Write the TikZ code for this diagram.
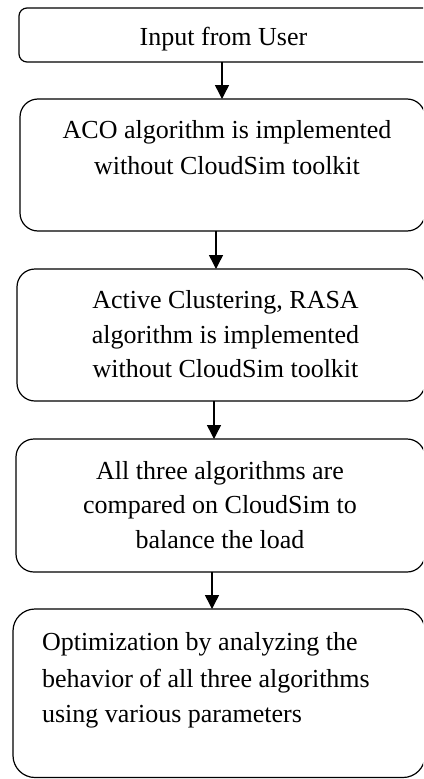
\documentclass[tikz,border=0pt]{standalone}
\usepackage{fontspec}
\setmainfont{Liberation Serif}
\usetikzlibrary{arrows.meta}
\begin{document}
\begin{tikzpicture}[x=1pt,y=-1pt,
  box/.style={draw=black, line width=1.2pt, inner sep=0pt, outer sep=0pt},
  txt/.style={inner sep=0pt, outer sep=0pt, font=\fontsize{26}{31}\selectfont, anchor=base},
  txtl/.style={txt, anchor=base west},
  arr/.style={line width=1.5pt, -{Triangle[width=14pt,length=14pt]}}]
\useasboundingbox (0,0) rectangle (423,779);
\clip (0,0) rectangle (423,779);
% boxes
\node[box, rounded corners=8pt, minimum width=413pt, minimum height=54pt] (b1) at (225.5,35) {};
\node[box, rounded corners=18pt, minimum width=405pt, minimum height=132pt] (b2) at (222.5,165) {};
\node[box, rounded corners=18pt, minimum width=408pt, minimum height=132pt] (b3) at (221,335) {};
\node[box, rounded corners=18pt, minimum width=409pt, minimum height=133pt] (b4) at (220.5,505.5) {};
\node[box, rounded corners=22pt, minimum width=412pt, minimum height=168.5pt] (b5) at (219,693.25) {};
% texts
\node[txt] (t1) at (223.5,45) {Input from User};
\node[txt] (t2a) at (227,138) {ACO algorithm is implemented};
\node[txt] (t2b) at (227,174) {without CloudSim toolkit};
\node[txt] (t3a) at (225.5,308) {Active Clustering, RASA};
\node[txt] (t3b) at (225.5,343) {algorithm is implemented};
\node[txt] (t3c) at (225.5,377) {without CloudSim toolkit};
\node[txt] (t4a) at (220,479) {All three algorithms are};
\node[txt] (t4b) at (220,513) {compared on CloudSim to};
\node[txt] (t4c) at (220,548) {balance the load};
\node[txtl] (t5a) at (42,650) {Optimization by analyzing the};
\node[txtl] (t5b) at (42,687) {behavior of all three algorithms};
\node[txtl] (t5c) at (42,722) {using various parameters};
% arrow columns
\coordinate (x1) at (222,0);
\coordinate (x2) at (216,0);
\coordinate (x3) at (214,0);
\coordinate (x4) at (212,0);
\draw[arr] (b1.south -| x1) -- (b2.north -| x1);
\draw[arr] (b2.south -| x2) -- (b3.north -| x2);
\draw[arr] (b3.south -| x3) -- (b4.north -| x3);
\draw[arr] (b4.south -| x4) -- (b5.north -| x4);
\end{tikzpicture}
\end{document}
